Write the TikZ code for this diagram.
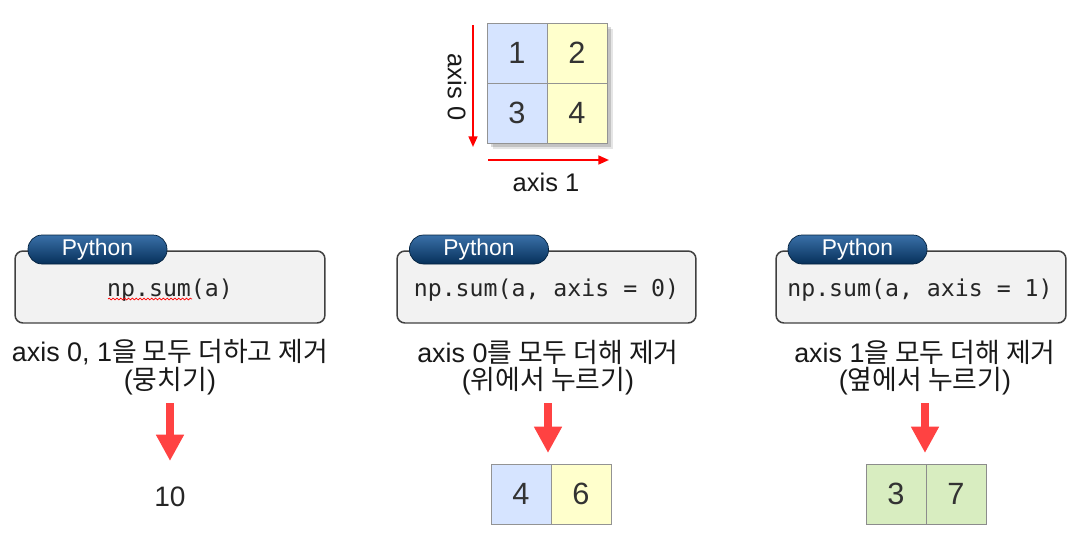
\documentclass[tikz,border=0pt]{standalone}
\usepackage{fontspec}
\setmainfont{Liberation Sans}
\setmonofont{DejaVu Sans Mono}
\newfontfamily\krfont{Noto Sans CJK KR}
\usetikzlibrary{arrows.meta,decorations.pathmorphing}
\definecolor{cellblue}{RGB}{214,228,255}
\definecolor{cellyellow}{RGB}{255,255,204}
\definecolor{cellgreen}{RGB}{216,237,192}
\definecolor{boxgray}{RGB}{242,242,242}
\definecolor{tabtop}{RGB}{58,112,168}
\definecolor{tabbottom}{RGB}{6,48,90}
\definecolor{blockred}{RGB}{255,66,66}

\begin{document}
\begin{tikzpicture}[x=0.02cm, y=-0.02cm,
  cell/.style={draw=gray!85, minimum width=1.2cm, minimum height=1.2cm, inner sep=0pt,
    font=\fontsize{17.5}{20}\selectfont, text=black!80},
  codebox/.style={draw=black!75, line width=0.85pt, fill=boxgray, rounded corners=4.5pt,
    minimum height=1.44cm, inner sep=0pt},
  pytab/.style={draw=tabbottom!70!black, line width=0.4pt, rounded corners=8pt,
    top color=tabtop, bottom color=tabbottom, minimum width=2.78cm, minimum height=0.58cm,
    inner sep=0pt, text=white, font=\fontsize{13}{15}\selectfont},
  code/.style={font=\ttfamily\fontsize{13.2}{15}\selectfont, text=black!85},
  note/.style={font=\fontsize{15.3}{18}\selectfont, text=black!90},
  axisarrow/.style={red, line width=1.1pt, -{Triangle[length=6pt,width=5pt]}},
  blockarrow/.style={blockred, line width=4.5pt, -{Triangle[length=15pt,width=15pt]}}]
\useasboundingbox (0,0) rectangle (1080,542);
%%%%% Matrix %%%%%
\fill[black, opacity=0.10] (493,29) rectangle (613,149);
\fill[black, opacity=0.15] (491,27) rectangle (611,147);
\node[cell, fill=cellblue] (c1) at (517,53) {1};
\node[cell, fill=cellyellow] (c2) at (577,53) {2};
\node[cell, fill=cellblue] (c3) at (517,113) {3};
\node[cell, fill=cellyellow] (c4) at (577,113) {4};
%%%%% Axis %%%%%
\coordinate (ax0s) at (473,25);
\coordinate (ax0e) at (473,147);
\coordinate (ax1s) at (488,160);
\coordinate (ax1e) at (609,160);
\draw[axisarrow] (ax0s) -- (ax0e);
\draw[axisarrow] (ax1s) -- (ax1e);
\node[note, font=\fontsize{14.5}{17}\selectfont, rotate=-90] (ax0lbl) at (457,87) {axis 0};
\node[note, font=\fontsize{14.5}{17}\selectfont] (ax1lbl) at (546,182) {axis 1};
%%%%% Code boxes %%%%%
\node[codebox, minimum width=6.2cm] (box1) at (170,287) {};
\node[codebox, minimum width=5.98cm] (box2) at (546.5,287) {};
\node[codebox, minimum width=5.8cm] (box3) at (921,287) {};
\node[pytab] (tab1) at (97.5,249.5) {\raisebox{-1pt}{Python}};
\node[pytab] (tab2) at (479,249.5) {\raisebox{-1pt}{Python}};
\node[pytab] (tab3) at (857.5,249.5) {\raisebox{-1pt}{Python}};
\node[code] (code1) at (170,290) {np.sum(a)};
\node[code] (code2) at (546.5,290) {np.sum(a, axis = 0)};
\node[code] (code3) at (920,290) {np.sum(a, axis = 1)};
\draw[red, line width=0.4pt, decorate, decoration={snake, amplitude=0.5pt, segment length=2.2pt}]
  (108,299) -- (192,299);
%%%%% Notes %%%%%
\node[note] (n1a) at (170,352) {axis 0, 1{\krfont 을 모두 더하고 제거}};
\node[note] (n1b) at (170,381) {({\krfont 뭉치기})};
\node[note] (n2a) at (548,352) {axis 0{\krfont 를 모두 더해 제거}};
\node[note] (n2b) at (548,381) {({\krfont 위에서 누르기})};
\node[note] (n3a) at (925,352) {axis 1{\krfont 을 모두 더해 제거}};
\node[note] (n3b) at (925,381) {({\krfont 옆에서 누르기})};
%%%%% Arrows %%%%%
\coordinate (a1s) at (170,403);
\coordinate (a1e) at (170,461);
\coordinate (a2s) at (548,403);
\coordinate (a2e) at (548,453);
\coordinate (a3s) at (925,403);
\coordinate (a3e) at (925,453);
\draw[blockarrow] (a1s) -- (a1e);
\draw[blockarrow] (a2s) -- (a2e);
\draw[blockarrow] (a3s) -- (a3e);
%%%%% Results %%%%%
\node[font=\fontsize{16}{19}\selectfont, text=black!85] (res1) at (170,497) {10};
\node[cell, fill=cellblue] (r1) at (521,494) {4};
\node[cell, fill=cellyellow] (r2) at (581,494) {6};
\node[cell, fill=cellgreen, draw=gray!90] (g1) at (896,494) {3};
\node[cell, fill=cellgreen, draw=gray!90] (g2) at (956,494) {7};
\end{tikzpicture}
\end{document}
